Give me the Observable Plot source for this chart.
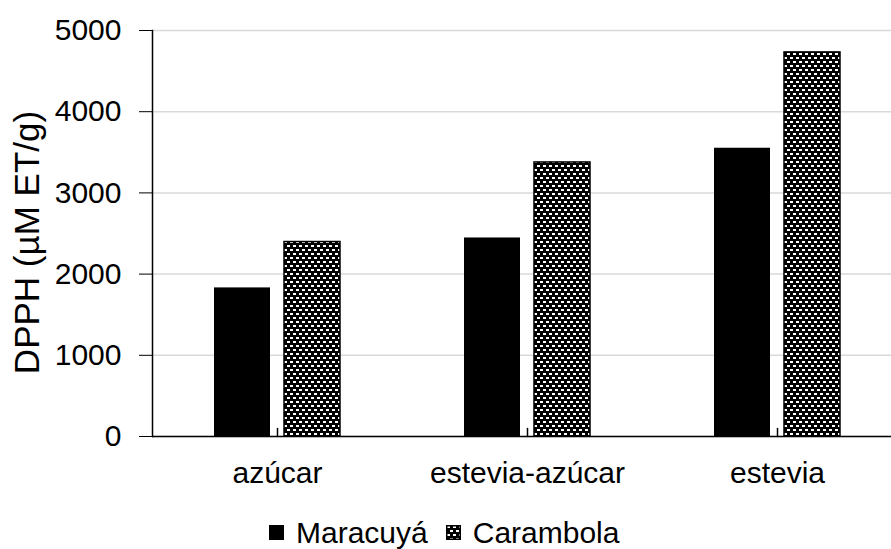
<!DOCTYPE html>
<html><head><meta charset="utf-8">
<script src="https://cdn.jsdelivr.net/npm/d3@7"></script>
<script src="https://cdn.jsdelivr.net/npm/@observablehq/plot@0.6"></script>
<style>
html,body{margin:0;padding:0;background:#fff;}
body{width:891px;height:549px;overflow:hidden;font-family:"Liberation Sans",Arial,sans-serif;color:#000;}
#chart svg{max-width:none !important;}
#legend{display:flex;align-items:center;height:45px;padding-left:269px;font-size:30px;line-height:1;}
#legend .item{display:flex;align-items:center;margin-right:18px;}
</style></head><body>
<svg width="0" height="0" style="position:absolute">
  <defs>
    <pattern id="checker" patternUnits="userSpaceOnUse" width="6" height="8">
      <rect x="0" y="0" width="6" height="8" fill="#000"/>
      <rect x="1" y="1" width="3" height="2" fill="#fff"/>
      <rect x="4" y="5" width="2" height="2" fill="#fff"/>
      <rect x="0" y="5" width="1" height="2" fill="#fff"/>
    </pattern>
  </defs>
</svg>
<div id="chart"></div>
<div id="legend"></div>
<script>
const categories = ["azúcar", "estevia-azúcar", "estevia"];
const series = ["Maracuyá", "Carambola"];
const maracuya = [1830, 2445, 3550];
const carambola = [2395, 3375, 4730];
const yTicks = [0, 1000, 2000, 3000, 4000, 5000];
const yLabel = "DPPH (µM ET/g)";

const rows = categories.flatMap((c, i) => [
  {category: c, series: series[0], value: maracuya[i]},
  {category: c, series: series[1], value: carambola[i]}
]);
const fills = {"Maracuyá": "#000", "Carambola": "url(#checker)"};
const tickShape = {draw(ctx, l) { ctx.moveTo(0, 0); ctx.lineTo(0, -l); }};

const chart = Plot.plot({
  width: 902,
  height: 510,
  marginLeft: 151,
  marginRight: 0,
  marginTop: 30,
  marginBottom: 74,
  style: {fontFamily: '"Liberation Sans", Arial, sans-serif', fontSize: "30px", color: "#000", background: "#fff", overflow: "visible", maxWidth: "none"},
  fx: {domain: categories, padding: 0, label: null, axis: null},
  x: {domain: series, paddingInner: 0.2, paddingOuter: 0.87, axis: null},
  y: {domain: [0, 5000], label: yLabel},
  marks: [
    Plot.gridY(yTicks, {stroke: "#d9d9d9", strokeOpacity: 1, strokeWidth: 1.5}),
    Plot.barY(rows.filter(d => d.series === series[0]), {fx: "category", x: "series", y: "value", fill: fills[series[0]]}),
    Plot.barY(rows.filter(d => d.series === series[1]), {fx: "category", x: "series", y: "value", fill: fills[series[1]], stroke: "#000", strokeWidth: 1.5}),
    Plot.ruleY([0], {stroke: "#000", strokeWidth: 1.5}),
    Plot.vector(categories, {fx: d => d, frameAnchor: "bottom", length: 8, anchor: "start", shape: tickShape, stroke: "#000", strokeWidth: 1.5}),
    Plot.frame({anchor: "left", facetAnchor: "left", stroke: "#000", strokeWidth: 1.5}),
    Plot.axisY(yTicks, {tickSize: 13, tickPadding: 18, fontSize: 30, label: yLabel, labelAnchor: "center", labelArrow: "none", labelOffset: 138, tickFormat: d => String(d)}),
    Plot.axisFx({anchor: "bottom", tickSize: 0, tickPadding: 25, fontSize: 30, label: null})
  ]
});
document.getElementById("chart").appendChild(chart);

// enlarge and recenter the y-axis title
const lab = chart.querySelector('g[aria-label="y-axis label"] text');
if (lab) {
  lab.setAttribute("font-size", 35);
  lab.style.fontSize = "35px";
  const tr = lab.getAttribute("transform") || "";
  const m = tr.match(/translate\(([-\d.]+),\s*([-\d.]+)\)/);
  if (m) lab.setAttribute("transform", tr.replace(m[0], `translate(${m[1]},${(+m[2] + 9).toFixed(1)})`));
}

const legend = document.getElementById("legend");
series.forEach(s => {
  const item = document.createElement("div");
  item.className = "item";
  const sw = document.createElementNS("http://www.w3.org/2000/svg", "svg");
  sw.setAttribute("width", 15); sw.setAttribute("height", 15);
  sw.style.marginRight = "12px";
  const r = document.createElementNS("http://www.w3.org/2000/svg", "rect");
  r.setAttribute("x", 0.75); r.setAttribute("y", 0.75); r.setAttribute("width", 13.5); r.setAttribute("height", 13.5);
  r.setAttribute("fill", fills[s]); r.setAttribute("stroke", "#000"); r.setAttribute("stroke-width", 1.5);
  sw.appendChild(r);
  item.appendChild(sw);
  const t = document.createElement("span");
  t.textContent = s;
  item.appendChild(t);
  legend.appendChild(item);
});
</script>
</body></html>
